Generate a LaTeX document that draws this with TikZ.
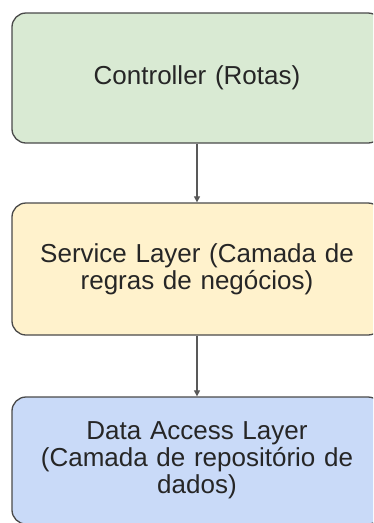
\documentclass[tikz,border=0pt]{standalone}
\usepackage{fontspec}
\setmainfont{Liberation Sans}
\usetikzlibrary{arrows.meta}
\definecolor{gfill}{HTML}{D9EAD3}
\definecolor{yfill}{HTML}{FFF2CC}
\definecolor{bfill}{HTML}{C9DAF8}
\definecolor{edge}{HTML}{4A4A4A}
\definecolor{linec}{HTML}{595959}
\begin{document}
\begin{tikzpicture}[x=1pt,y=-1pt,
  layerbox/.style={draw=edge, line width=1.3pt, rounded corners=14pt,
    minimum width=370pt, text width=340pt, align=center, inner sep=0pt,
    font=\fontsize{26}{27}\selectfont, text=black!85},
  conn/.style={draw=linec, line width=1.2pt, -{Triangle[length=6pt,width=6pt]}}]
\clip (0,0) rectangle (373,523);
\fill[white] (0,0) rectangle (373,523);
\node[layerbox, fill=gfill, minimum height=130pt] (ctrl) at (197,78) {Controller (Rotas)};
\node[layerbox, fill=yfill, minimum height=132pt] (svc) at (197,269) {Service Layer (Camada de\\regras de negócios)};
\node[layerbox, fill=bfill, minimum height=127pt] (dal) at (197,460.5) {Data Access Layer\\(Camada de repositório de\\dados)};
\draw[conn] (ctrl) -- (svc);
\draw[conn] (svc) -- (dal);
\end{tikzpicture}
\end{document}
